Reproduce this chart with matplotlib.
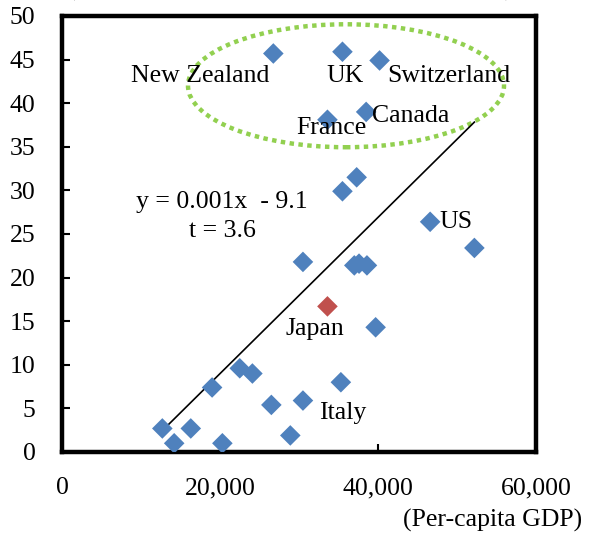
import matplotlib.pyplot as plt
import numpy as np
from matplotlib.patches import Ellipse
from matplotlib.ticker import FuncFormatter

plt.rcParams["font.family"] = ["Liberation Serif", "DejaVu Serif"]

# per-capita GDP (USD) and share (%) by country; unnamed points are unlabeled
countries = ["New Zealand", "UK", "Switzerland", "Canada", "France", "US", "Japan", "Italy",
             "", "", "", "", "", "", "", "", "", "", "", "", "", "", "", "", "", ""]
gdp = [26750, 35500, 40200, 38500, 33600, 46600, 33600, 35300,
       37300, 35500, 52200, 30500, 37000, 37600, 38600, 39700, 22500, 24100,
       19000, 26500, 30500, 12700, 16300, 14200, 20300, 28900]
share = [45.7, 45.9, 44.9, 39.0, 38.1, 26.4, 16.7, 8.0,
         31.5, 29.9, 23.4, 21.8, 21.4, 21.6, 21.4, 14.3, 9.6, 9.0,
         7.4, 5.4, 5.9, 2.7, 2.7, 1.0, 1.0, 1.9]
highlight = "Japan"

x_ticks = [0, 20000, 40000, 60000]
y_ticks = list(range(0, 55, 5))

# label placement (data coords) for the named countries
label_pos = {
    "New Zealand": (17500, 43.1),
    "UK": (35800, 43.1),
    "Switzerland": (49000, 43.1),
    "Canada": (44200, 38.5),
    "France": (34100, 37.2),
    "US": (49900, 26.4),
    "Japan": (32000, 14.1),
    "Italy": (35500, 4.5),
}

BLUE = "#4F81BD"
RED = "#C0504D"
GREEN = "#92D050"
FS = 18.5

gdp = np.array(gdp, dtype=float)
share = np.array(share, dtype=float)

fig = plt.figure(figsize=(5.92, 5.34), dpi=100)
ax = fig.add_axes([62 / 592, 82 / 534, 474 / 592, 436 / 534])

colors = [RED if c == highlight else BLUE for c in countries]
ax.scatter(gdp, share, marker="D", s=110, c=colors, linewidths=0, zorder=3)

# linear trend over the data range
slope, intercept = np.polyfit(gdp, share, 1)
xs = np.array([gdp.min(), gdp.max()])
ax.plot(xs, slope * xs + intercept, color="black", lw=1.2, zorder=2)

ax.text(20250, 28.7, "y = 0.001x  - 9.1", fontsize=FS, ha="center", va="center")
ax.text(20300, 25.3, "t = 3.6", fontsize=FS, ha="center", va="center")

for name, (tx, ty) in label_pos.items():
    ax.text(tx, ty, name, fontsize=FS, ha="center", va="center", zorder=4)

ring = Ellipse((35950, 42.0), 40000, 14.1, fill=False, edgecolor=GREEN,
               lw=3.2, linestyle=(0, (1, 1)), zorder=1)
ax.add_patch(ring)

ax.set_xlim(0, 60000)
ax.set_ylim(0, 50)
ax.set_xticks(x_ticks)
ax.set_yticks(y_ticks)
ax.xaxis.set_major_formatter(FuncFormatter(lambda v, _: f"{v:,.0f}"))
ax.tick_params(direction="in", length=6, width=1.5, labelsize=FS)
ax.tick_params(axis="x", pad=18)
ax.tick_params(axis="y", pad=19)
for sp in ax.spines.values():
    sp.set_linewidth(3.2)
    sp.set_capstyle("projecting")

fig.text(582 / 592, 14 / 534, "(Per-capita GDP)", fontsize=FS, ha="right", va="center")
# y-axis caption sits above the top edge, only its descenders show
fig.text(290 / 592, 1 + 4 / 534, "(Percentage of foreign-born population, %)",
         fontsize=FS, ha="center", va="baseline")

fig.savefig("out.png", dpi=100)
